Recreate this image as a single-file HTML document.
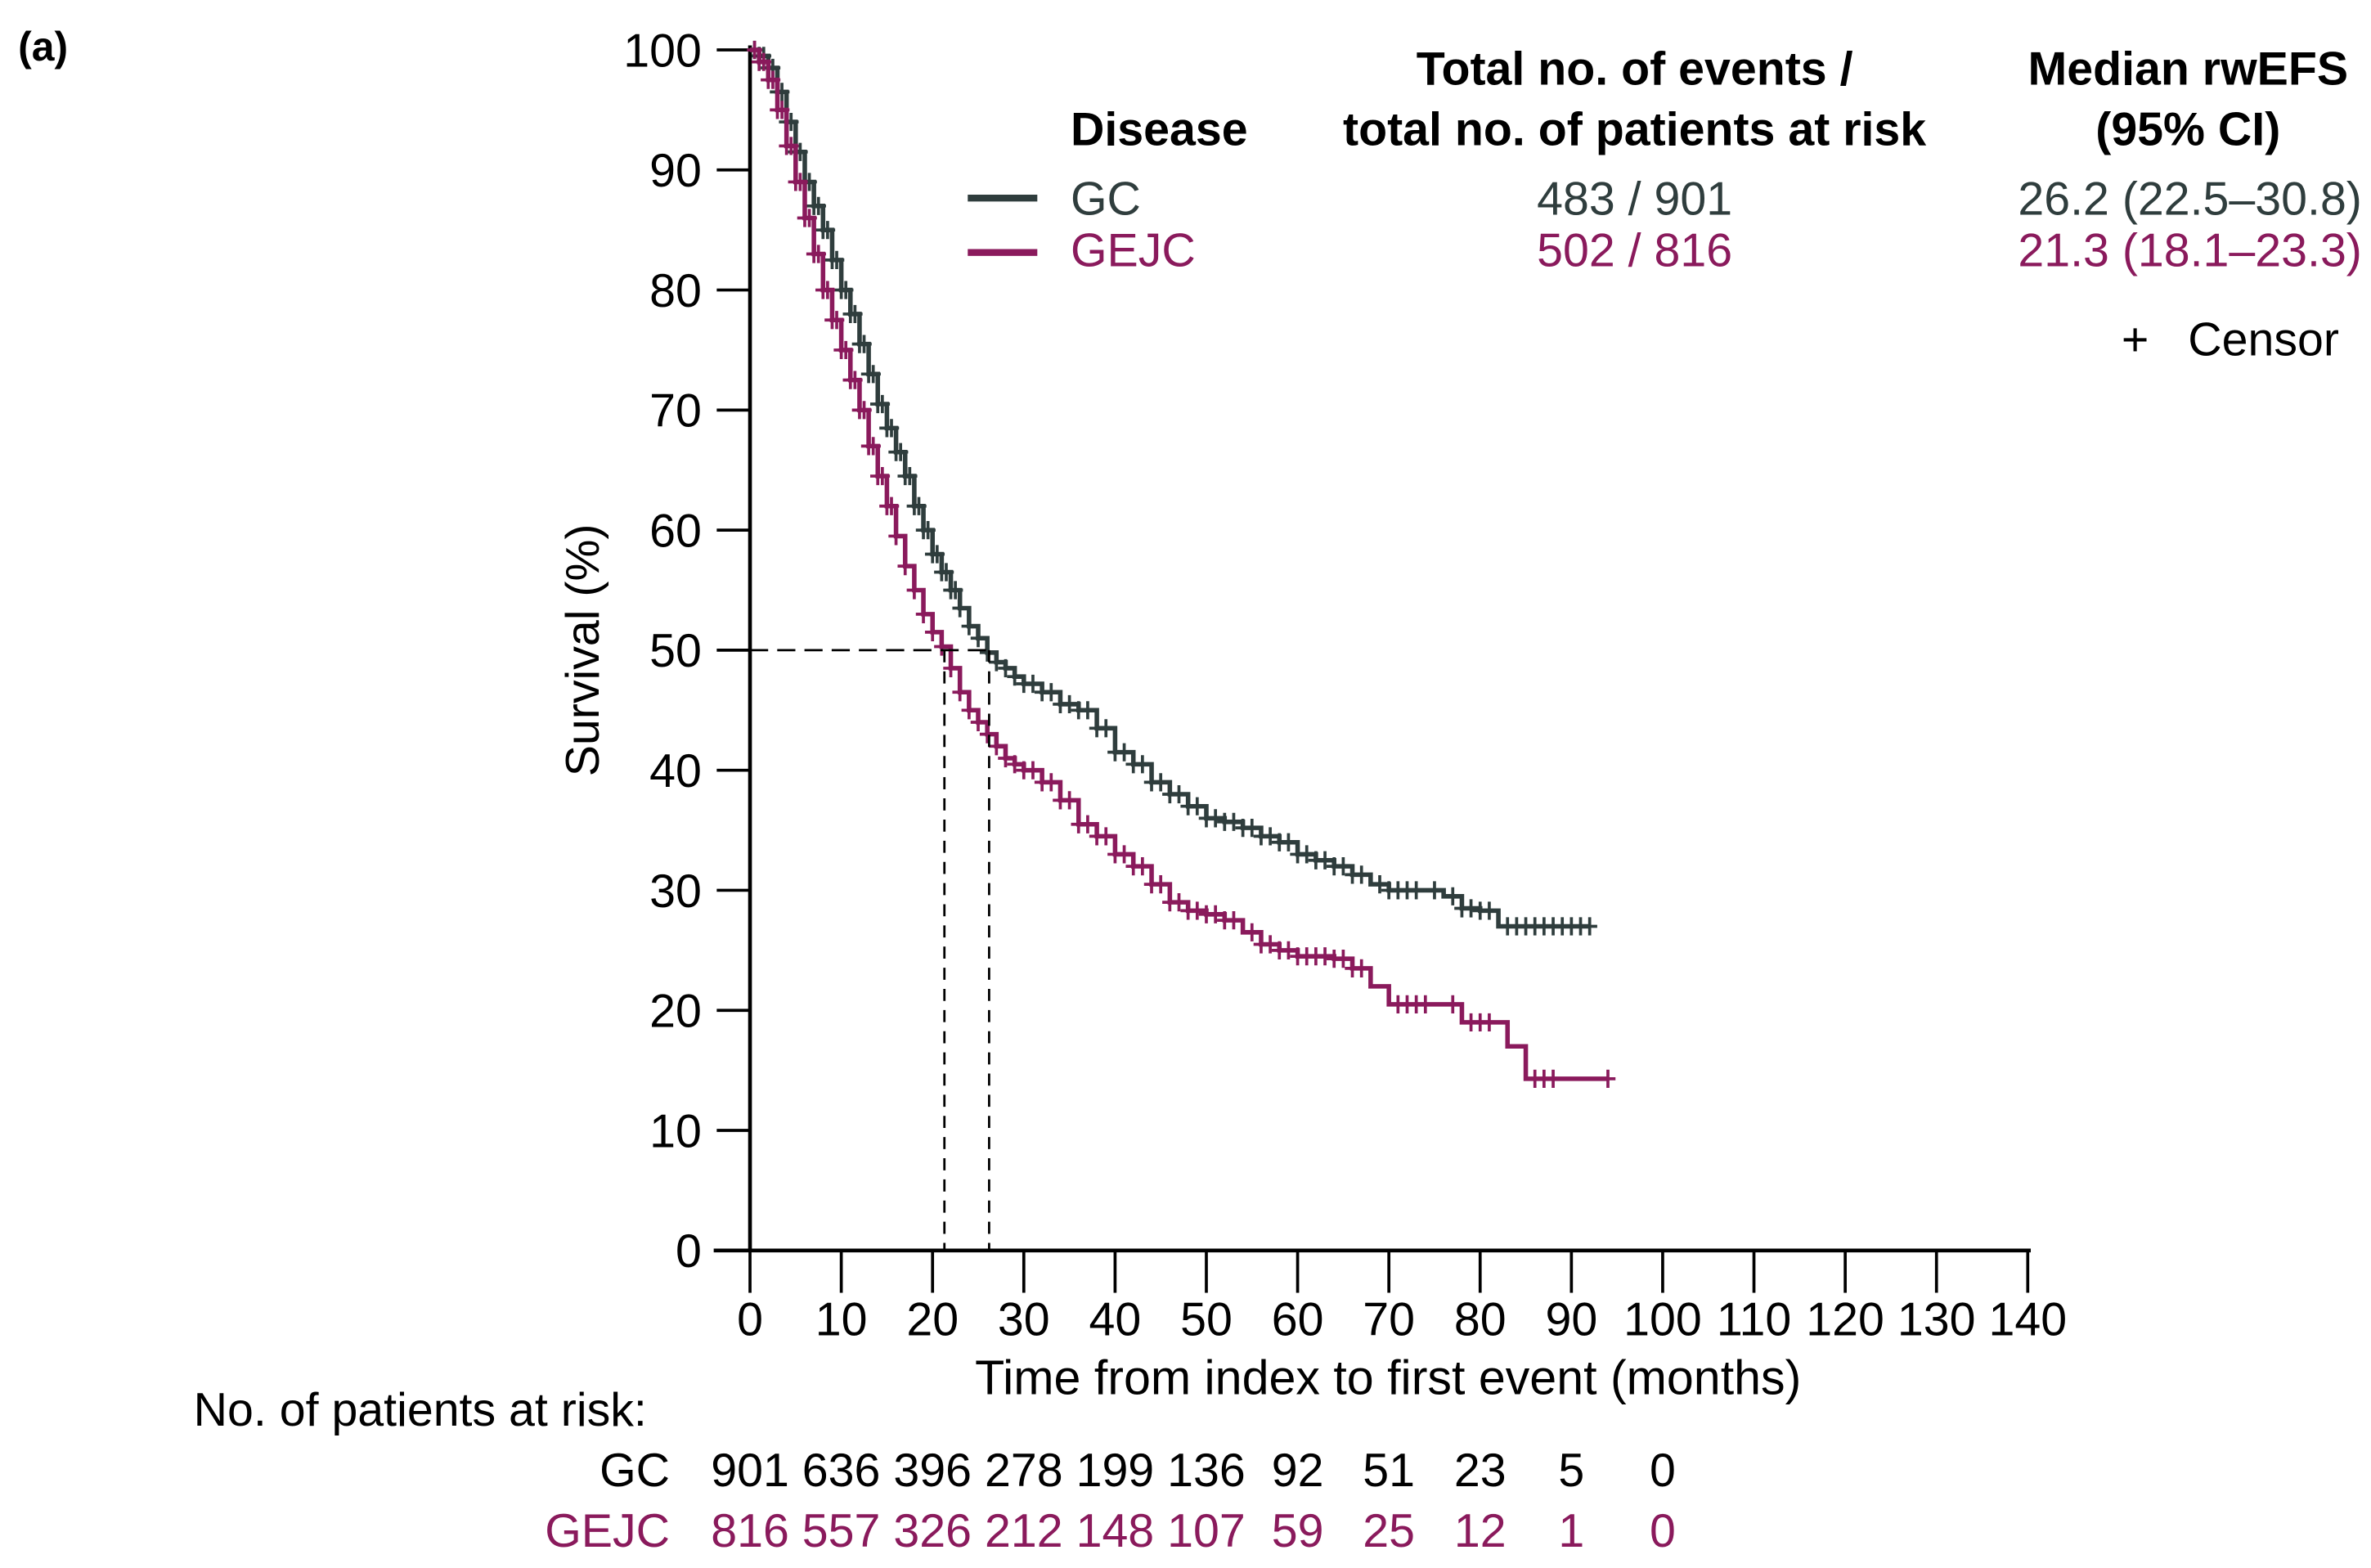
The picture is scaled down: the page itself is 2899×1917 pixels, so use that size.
<!DOCTYPE html>
<html><head><meta charset="utf-8"><style>
html,body{margin:0;padding:0;background:#fff;overflow:hidden}
svg{display:block}
text{font-family:"Liberation Sans",Arial,sans-serif}
</style></head><body>
<svg id="chart" width="2899" height="1917" viewBox="0 0 1568 1037" preserveAspectRatio="none" xmlns="http://www.w3.org/2000/svg">
<g id="axes"></g><g id="curves"></g><g id="ann"></g>
<text x="12" y="40" font-size="27" font-weight="bold">(a)</text>
<text transform="translate(396,430) rotate(-90)" text-anchor="middle" font-size="31">Survival (%)</text>
<text x="918" y="922" text-anchor="middle" font-size="32">Time from index to first event (months)</text>
<g font-size="32">
<text x="708" y="96" font-weight="bold" font-size="31">Disease</text>
<text x="1081" y="56" text-anchor="middle" font-weight="bold" font-size="31">Total no. of events /</text>
<text x="1081" y="96" text-anchor="middle" font-weight="bold" font-size="31">total no. of patients at risk</text>
<text x="1447" y="56" text-anchor="middle" font-weight="bold" font-size="31">Median rwEFS</text>
<text x="1447" y="96" text-anchor="middle" font-weight="bold" font-size="31">(95% CI)</text>
<line x1="640" y1="131" x2="686" y2="131" stroke="#2f3d3d" stroke-width="4.5"/>
<text x="708" y="142" fill="#2f3d3d" font-size="31">GC</text>
<text x="1081" y="142" text-anchor="middle" fill="#2f3d3d" font-size="31">483 / 901</text>
<text x="1562" y="142" text-anchor="end" fill="#2f3d3d" font-size="31">26.2 (22.5–30.8)</text>
<line x1="640" y1="167" x2="686" y2="167" stroke="#8a1a5c" stroke-width="4.5"/>
<text x="708" y="176" fill="#8a1a5c" font-size="31">GEJC</text>
<text x="1081" y="176" text-anchor="middle" fill="#8a1a5c" font-size="31">502 / 816</text>
<text x="1562" y="176" text-anchor="end" fill="#8a1a5c" font-size="31">21.3 (18.1–23.3)</text>
<text x="1403" y="235" font-size="31">+</text>
<text x="1447" y="235" font-size="31">Censor</text>
</g>
<g font-size="31" id="risk">
<text x="128" y="943">No. of patients at risk:</text>
<text x="443" y="983" text-anchor="end">GC</text>
<text x="443" y="1023" text-anchor="end" fill="#8a1a5c">GEJC</text>
</g>
</svg>
<script>
const xTicks=[0,10,20,30,40,50,60,70,80,90,100,110,120,130,140];
const yTicks=[0,10,20,30,40,50,60,70,80,90,100];
const gcT=[0,1,2,3,4,5,6,7,8,9,10,11,12,13,14,15,16,17,18,19,20,21,22,23,24,25,26,27,28,29,30,32,34,36,38,40,42,44,46,48,50,52,54,56,58,60,62,64,66,68,70,74,76,78,80,82,92];
const gcS=[100,99.5,98.5,96.5,94,91.5,89,87,85,82.5,80,78,75.5,73,70.5,68.5,66.5,64.5,62,60,58,56.5,55,53.5,52,51,49.8,49,48.5,47.8,47.2,46.5,45.5,45,43.5,41.5,40.5,39,38,37,36,35.7,35.2,34.5,34,33,32.5,32,31.3,30.5,30,30,29.5,28.5,28.3,27,27];
const gejcT=[0,1,2,3,4,5,6,7,8,9,10,11,12,13,14,15,16,17,18,19,20,21,22,23,24,25,26,27,28,29,30,32,34,36,38,40,42,44,46,48,50,52,54,56,58,60,64,66,68,70,76,78,82,83,85,94];
const gejcS=[100,99,97.5,95,92,89,86,83,80,77.5,75,72.5,70,67,64.5,62,59.5,57,55,53,51.5,50.3,48.5,46.5,45,44,43,42,41,40.5,40,39,37.5,35.5,34.5,33,32,30.5,29,28.3,28,27.5,26.5,25.5,25,24.5,24.3,23.5,22,20.5,20.5,19,19,17,14.3,14.3];
const gcCens=[0.5,1,1.5,2,2.5,3,3.5,4,4.5,5,5.5,6,6.5,7,7.5,8,8.5,9,9.5,10,10.5,11,11.5,12,12.5,13,13.5,14,14.5,15,15.5,16,16.5,17,17.5,18,18.5,19,19.5,20,20.5,21,21.5,22,22.5,23,24,25,26,27,28,29,30,31,32,33,34,35,36,37,38,39,40,41,42,43,44,45,46,47,48,49,50,51,52,53,54,55,56,57,58,59,60,61,62,63,64,65,66,67,69,70,71,72,73,75,77,78,79,80,81,83,84,85,86,87,88,89,90,91,92];
const gejcCens=[0.5,1,1.5,2,2.5,3,3.5,4,4.5,5,5.5,6,6.5,7,7.5,8,8.5,9,9.5,10,10.5,11,11.5,12,12.5,13,13.5,14,14.5,15,15.5,16,17,18,19,20,21,22,23,24,25,26,27,28,29,30,31,32,33,34,35,36,37,38,39,40,41,42,43,44,45,46,47,48,49,50,51,52,53,55,56,57,58,59,60,61,62,63,64,65,66,67,71,72,73,74,77,79,80,81,86,87,88,94];
const riskGC=[901,636,396,278,199,136,92,51,23,5,0];
const riskGEJC=[816,557,326,212,148,107,59,25,12,1,0];
const medians=[21.3,26.2];
const NS="http://www.w3.org/2000/svg";
const X=t=>496+t*(1341-496)/140, Y=s=>827-s*(827-33)/100;
function mk(tag,a,p){const e=document.createElementNS(NS,tag);for(const k in a)e.setAttribute(k,a[k]);p.appendChild(e);return e;}
const axes=document.getElementById('axes');
let e=mk('line',{x1:496,y1:30,x2:496,y2:828,stroke:'#000','stroke-width':2.5},axes);


e=mk('line',{x1:472,y1:827,x2:1343,y2:827,stroke:'#000','stroke-width':2.5},axes);


yTicks.forEach(v=>{
 const t=mk('line',{x1:474,y1:Y(v),x2:496,y2:Y(v),stroke:'#000','stroke-width':2},axes);
 
 
 const l=mk('text',{x:464,y:Y(v)+11,'text-anchor':'end','font-size':31},axes);l.textContent=v;
 
 
});
xTicks.forEach(v=>{
 const t=mk('line',{x1:X(v),y1:827,x2:X(v),y2:855,stroke:'#000','stroke-width':2},axes);
 
 
 const l=mk('text',{x:X(v),y:883,'text-anchor':'middle','font-size':31},axes);l.textContent=v;
 
 
});
const ann=document.getElementById('ann');
e=mk('line',{x1:496,y1:Y(50),x2:X(medians[1]),y2:Y(50),stroke:'#000','stroke-width':1.5,'stroke-dasharray':'12,6'},ann);


medians.forEach(m=>{
 const d=mk('line',{x1:X(m),y1:Y(50),x2:X(m),y2:827,stroke:'#000','stroke-width':1.5,'stroke-dasharray':'8,6'},ann);
 
 
});
const curves=document.getElementById('curves');
function survAt(T,S,t){let s=S[0];for(let i=0;i<T.length;i++){if(T[i]<=t)s=S[i];}return s;}
function draw(T,S,cens,col,name){
 let d='M'+X(T[0])+','+Y(S[0]);
 for(let i=1;i<T.length;i++){d+=' H'+X(T[i])+' V'+Y(S[i]);}
 const p=mk('path',{d:d,fill:'none',stroke:col,'stroke-width':3},curves);
 
 
 cens.forEach(c=>{
  const x=X(c),y=Y(survAt(T,S,c));
  const m=mk('path',{d:`M${x-5},${y} H${x+5} M${x},${y-6} V${y+6}`,stroke:col,'stroke-width':2},curves);
  
  
 });
}
draw(gcT,gcS,gcCens,'#2f3d3d','gc');
draw(gejcT,gejcS,gejcCens,'#8a1a5c','gejc');
const risk=document.getElementById('risk');
riskGC.forEach((v,i)=>{
 const t=mk('text',{x:X(xTicks[i]),y:983,'text-anchor':'middle'},risk);t.textContent=v;
 
 
});
riskGEJC.forEach((v,i)=>{
 const t=mk('text',{x:X(xTicks[i]),y:1023,'text-anchor':'middle',fill:'#8a1a5c'},risk);t.textContent=v;
 
 
});
</script>
</body></html>
